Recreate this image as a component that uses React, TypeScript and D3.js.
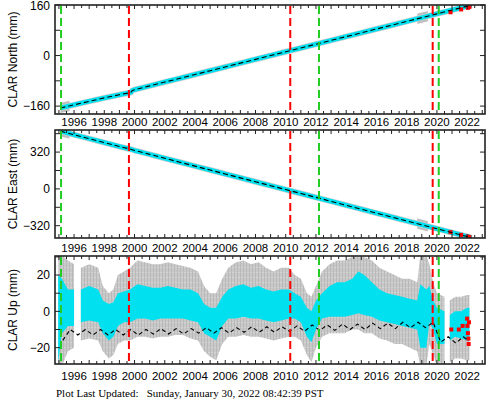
import React from "react";
import * as d3 from "d3";

// ---------- data ----------
const xTickYears = [1996, 1998, 2000, 2002, 2004, 2006, 2008, 2010, 2012, 2014, 2016, 2018, 2020, 2022];
const redEvents = [1999.63, 2010.3, 2019.72];
const greenEvents = [1995.14, 2012.2, 2020.12];

const posT = [1995.1, 1996, 1997, 1998, 1999, 1999.75, 1999.85, 2000, 2001, 2002, 2003, 2004, 2005, 2006, 2007, 2008, 2009, 2010, 2010.3, 2011, 2012, 2013, 2014, 2015, 2016, 2017, 2018, 2019, 2020, 2021, 2022.3];
const northVals = [-166, -156, -145, -134, -124, -117, -111, -108, -96, -84, -72, -60, -48, -36, -24, -12, 0, 12, 15.6, 24, 36, 48, 60, 72, 84, 96, 108, 120, 132, 144, 160];
const eastVals = [502, 471, 437, 403, 368, 345, 341, 334, 300, 266, 232, 198, 164, 130, 96, 62, 28, -6, -16, -40, -74, -108, -142, -176, -210, -244, -278, -312, -346, -380, -425];

// windows with larger position uncertainty (gray error-bar blobs)
const blobStart = [1995.1, 2018.7];
const blobEnd = [1995.7, 2019.4];

const rapidT = [2020.9, 2021.6, 2022.05, 2022.15];
const rapidNorth = [137, 146, 151, 154];
const rapidEast = [-376, -400, -415, -419];
const rapidUpT = [2020.95, 2021.45, 2021.7, 2022.0, 2022.02, 2022.05, 2022.08, 2022.1, 2022.12];
const rapidUp = [-10, -10, -8, -4, -8, -12, -15, -18, -6];

const northTicks = [-160, -80, 0, 80, 160];
const northLabels = [-160, 0, 160];
const eastTicks = [-320, -160, 0, 160, 320, 480];
const eastLabels = [-320, 0, 320];
const upTicks = [-20, -10, 0, 10, 20, 30];
const upLabels = [-20, 0, 20];

const upT = [1994.95, 1995.2, 1995.6, 1996.0, 1996.05, 1996.45, 1997.0, 1997.6, 1997.9, 1998.3, 1998.6, 1998.9, 1999.3, 1999.7, 2000.2, 2000.7, 2001.2, 2001.7, 2002.2, 2002.7, 2003.2, 2003.7, 2004.2, 2004.6, 2005.0, 2005.4, 2005.8, 2006.2, 2006.7, 2007.2, 2007.7, 2008.2, 2008.7, 2009.2, 2009.7, 2010.2, 2010.6, 2011.0, 2011.4, 2011.7, 2012.0, 2012.4, 2012.9, 2013.4, 2013.9, 2014.4, 2014.8, 2015.2, 2015.7, 2016.2, 2016.7, 2017.2, 2017.7, 2018.2, 2018.7, 2018.9, 2019.3, 2019.5, 2019.75, 2020.0, 2020.5, 2020.65, 2020.85, 2021.2, 2021.6, 2022.0, 2022.15];
const upCyanLo = [-28, -12, -8, -8, NaN, -6, -5, -6, -12, -16, -14, -8, -6, -6, -4, -4, -5, -4, -4, -4, -4, -5, -6, -12, -14, -16, -8, -4, -4, -3, -4, -4, -5, -6, -5, -4, -4, -6, -14, -17, -10, -4, -3, -3, -3, -2, -1, -2, -3, -5, -6, -7, -8, -9, -10, -20, -20, -6, -10, -18, -18, NaN, -16, -14, -15, -16, -16];
const upCyanHi = [20, 18, 12, 12, NaN, 12, 14, 12, 6, 4, 5, 10, 11, 12, 15, 14, 13, 13, 14, 13, 12, 12, 10, 4, 2, 2, 8, 12, 14, 15, 13, 14, 12, 11, 12, 12, 10, 8, 2, 0, 6, 10, 14, 16, 16, 18, 22, 20, 16, 12, 10, 9, 8, 7, 6, 15, 12, 14, 6, 2, 0, NaN, -2, 0, 0, 2, 2];
const upGrayLo = [-30, -30, -22, -20, NaN, -16, -15, -16, -22, -26, -24, -18, -16, -16, -14, -14, -15, -14, -14, -13, -13, -15, -16, -22, -25, -27, -18, -14, -14, -13, -14, -14, -15, -16, -15, -14, -14, -16, -24, -28, -20, -14, -12, -12, -12, -10, -10, -12, -12, -15, -16, -18, -18, -20, -22, -30, -30, -18, -24, -30, -30, NaN, -28, -26, -26, -27, -27];
const upGrayHi = [31, 31, 28, 26, NaN, 24, 26, 24, 14, 10, 12, 20, 22, 24, 28, 27, 26, 26, 27, 26, 25, 24, 22, 14, 10, 10, 18, 24, 27, 28, 26, 27, 24, 22, 24, 24, 20, 18, 10, 8, 14, 22, 26, 28, 28, 30, 30, 30, 28, 24, 22, 20, 18, 18, 16, 31, 31, 26, 16, 10, 8, NaN, 6, 8, 8, 9, 9];

const upModelT = [1995.25, 1995.75, 1996.25, 1996.75, 1997.25, 1997.75, 1998.25, 1998.75, 1999.25, 1999.75, 2000.25, 2000.75, 2001.25, 2001.75, 2002.25, 2002.75, 2003.25, 2003.75, 2004.25, 2004.75, 2005.25, 2005.75, 2006.25, 2006.75, 2007.25, 2007.75, 2008.25, 2008.75, 2009.25, 2009.75, 2010.25, 2010.75, 2011.25, 2011.75, 2012.25, 2012.75, 2013.25, 2013.75, 2014.25, 2014.75, 2015.25, 2015.75, 2016.25, 2016.75, 2017.25, 2017.75, 2018.25, 2018.75, 2019.25, 2019.75, 2020.25, 2020.75, 2021.25, 2021.75, 2022.05];
const upModel = [-16, -10, -13, -10, -13, -10, -13, -10, -13, -10, -13, -10, -12.5, -9.5, -12.5, -9.5, -12.5, -9.5, -12, -9, -12, -9, -12, -9, -11.5, -8.5, -11.5, -8.5, -11.5, -8.5, -11, -8, -11, -7.5, -10.5, -7.5, -10.5, -7, -10, -7, -10, -6.5, -9.5, -6.5, -9.5, -6, -9, -6, -9, -6, -17, -14, -17.5, -14, -16];

// ---------- layout ----------
const W = 488, H = 404;
const L = 55, R = 485;
const FONT = "'Liberation Sans', Arial, Helvetica, sans-serif";
const CYAN = "#00e0ef";
const GRAY = "#bdbdbd";

const x = d3.scaleLinear().domain([1994.74, 2023.18]).range([L, R]);
const halfYears = d3.range(1995, 2023.01, 0.5);

type PanelDef = {
  top: number; bottom: number; domain: [number, number];
  ticks: number[]; labels: number[]; title: string; labelY: number;
};

const panels: PanelDef[] = [
  { top: 5, bottom: 114, domain: [-185, 160], ticks: northTicks, labels: northLabels, title: "CLAR North (mm)", labelY: 126 },
  { top: 130, bottom: 238, domain: [-427, 512], ticks: eastTicks, labels: eastLabels, title: "CLAR East (mm)", labelY: 252 },
  { top: 256, bottom: 364, domain: [-29, 30.5], ticks: upTicks, labels: upLabels, title: "CLAR Up (mm)", labelY: 380 },
];

const fmt = (v: number) => (v < 0 ? "\u2212" + Math.abs(v) : String(v));

function Frame({ p, y }: { p: PanelDef; y: d3.ScaleLinear<number, number> }) {
  return (
    <g>
      {halfYears.map((t, i) => {
        const len = Number.isInteger(t) ? 4 : 3;
        return (
          <g key={"xt" + i}>
            <line x1={x(t)} x2={x(t)} y1={p.bottom} y2={p.bottom - len} stroke="#222" strokeWidth={1} />
            <line x1={x(t)} x2={x(t)} y1={p.top} y2={p.top + len} stroke="#222" strokeWidth={1} />
          </g>
        );
      })}
      {p.ticks.filter((v) => v >= p.domain[0] && v <= p.domain[1]).map((v, i) => (
        <g key={"yt" + i}>
          <line x1={L} x2={L + 5} y1={y(v)} y2={y(v)} stroke="#222" strokeWidth={1} />
          <line x1={R} x2={R - 5} y1={y(v)} y2={y(v)} stroke="#222" strokeWidth={1} />
        </g>
      ))}
      <rect x={L} y={p.top} width={R - L} height={p.bottom - p.top} fill="none" stroke="#222" strokeWidth={1.6} />
      {p.labels.map((v, i) => (
        <text key={"yl" + i} x={L - 5} y={Math.max(y(v), 6)} dy="0.35em" textAnchor="end" fontFamily={FONT} fontSize={12} fill="#000">
          {fmt(v)}
        </text>
      ))}
      {xTickYears.map((t) => (
        <text key={"xl" + t} x={x(t)} y={p.labelY} textAnchor="middle" fontFamily={FONT} fontSize={11.5} fill="#000">
          {t}
        </text>
      ))}
      <text
        transform={`translate(17,${(p.top + p.bottom) / 2}) rotate(-90)`}
        textAnchor="middle"
        fontFamily={FONT}
        fontSize={12}
        fill="#000"
      >
        {p.title}
      </text>
    </g>
  );
}

function EventLines({ p }: { p: PanelDef }) {
  return (
    <g>
      {redEvents.map((t, i) => (
        <line key={"r" + i} x1={x(t)} x2={x(t)} y1={p.top + 1} y2={p.bottom - 1} stroke="#ff0000" strokeWidth={2} strokeDasharray="8,4" />
      ))}
      {greenEvents.map((t, i) => (
        <line key={"g" + i} x1={x(t)} x2={x(t)} y1={p.top + 1} y2={p.bottom - 1} stroke="#22cc22" strokeWidth={2} strokeDasharray="8,4" />
      ))}
    </g>
  );
}

function PosPanel({ p, vals, rapid }: { p: PanelDef; vals: number[]; rapid: number[] }) {
  const y = d3.scaleLinear().domain(p.domain).range([p.bottom, p.top]);
  const pts = posT.map((t, i) => [t, vals[i]] as [number, number]);
  const line = d3.line<[number, number]>().x((d) => x(d[0])).y((d) => y(d[1]));
  const path = line(pts) || "";
  const clipId = "clip" + p.top;
  return (
    <g>
      <defs>
        <clipPath id={clipId}>
          <rect x={L} y={p.top} width={R - L} height={p.bottom - p.top} />
        </clipPath>
        {blobStart.map((s, i) => (
          <clipPath id={clipId + "b" + i} key={i}>
            <rect x={x(s)} y={p.top} width={x(blobEnd[i]) - x(s)} height={p.bottom - p.top} />
          </clipPath>
        ))}
      </defs>
      <g clipPath={`url(#${clipId})`}>
        {blobStart.map((_, i) => (
          <g key={i} clipPath={`url(#${clipId}b${i})`}>
            <path d={path} fill="none" stroke={GRAY} strokeWidth={10} strokeLinecap="round" />
          </g>
        ))}
        <path d={path} fill="none" stroke="#cfcfcf" strokeWidth={6} />
        <path d={path} fill="none" stroke={CYAN} strokeWidth={4.6} />
        {rapidT.map((t, i) => (
          <rect key={i} x={x(t) - 2} y={y(rapid[i]) - 2} width={4} height={4} fill="#ff0000" />
        ))}
        <path d={path} fill="none" stroke="#000" strokeWidth={1.1} strokeDasharray="5,3" />
      </g>
      <EventLines p={p} />
      <Frame p={p} y={y} />
    </g>
  );
}

function UpPanel({ p }: { p: PanelDef }) {
  const y = d3.scaleLinear().domain(p.domain).range([p.bottom, p.top]);
  const idx = upT.map((_, i) => i);
  const grayArea = d3.area<number>()
    .defined((i) => !isNaN(upGrayLo[i]))
    .x((i) => x(upT[i]))
    .y0((i) => y(upGrayLo[i]))
    .y1((i) => y(upGrayHi[i]));
  const cyanArea = d3.area<number>()
    .defined((i) => !isNaN(upCyanLo[i]))
    .x((i) => x(upT[i]))
    .y0((i) => y(upCyanLo[i]))
    .y1((i) => y(upCyanHi[i]));
  const model = d3.line<number>().x((i) => x(upModelT[i])).y((i) => y(upModel[i]));
  const clipId = "clipup";
  return (
    <g>
      <defs>
        <clipPath id={clipId}>
          <rect x={L} y={p.top} width={R - L} height={p.bottom - p.top} />
        </clipPath>
        <pattern id="errbars" width={3} height={5} patternUnits="userSpaceOnUse">
          <rect width={3} height={5} fill="#c8c8c8" />
          <rect x={0} width={1} height={5} fill="#b9b9b9" />
          <rect x={1} y={2} width={2} height={1} fill="#d4d4d4" />
        </pattern>
      </defs>
      <g clipPath={`url(#${clipId})`}>
        <path d={grayArea(idx) || ""} fill="url(#errbars)" />
        <path d={cyanArea(idx) || ""} fill={CYAN} />
        {rapidUpT.map((t, i) => (
          <rect key={i} x={x(t) - 2} y={y(rapidUp[i]) - 2} width={4} height={4} fill="#ff0000" />
        ))}
        <path d={model(upModelT.map((_, i) => i)) || ""} fill="none" stroke="#000" strokeWidth={1.1} strokeDasharray="4,3" />
      </g>
      <EventLines p={p} />
      <Frame p={p} y={y} />
    </g>
  );
}

export default function App() {
  return (
    <svg
      width={W}
      height={H}
      viewBox={`0 0 ${W} ${H}`}
      style={{ position: "absolute", left: 0, top: 0, background: "#fff" }}
    >
      <rect x={0} y={0} width={W} height={H} fill="#fff" />
      <PosPanel p={panels[0]} vals={northVals} rapid={rapidNorth} />
      <PosPanel p={panels[1]} vals={eastVals} rapid={rapidEast} />
      <UpPanel p={panels[2]} />
      <text x={56} y={397} fontFamily="'Liberation Serif', 'Times New Roman', serif" fontSize={11} fill="#000" style={{ whiteSpace: "pre" }}>
        {"Plot Last Updated:   Sunday, January 30, 2022 08:42:39 PST"}
      </text>
    </svg>
  );
}
